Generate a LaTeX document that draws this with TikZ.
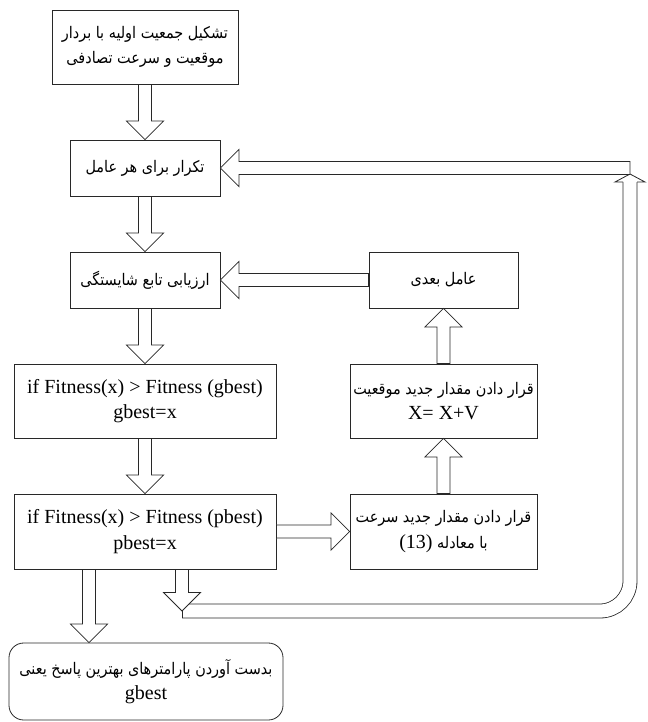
\documentclass[tikz,border=0pt]{standalone}
\usepackage{fontspec}
\setmainfont{Liberation Serif}
\newfontfamily\fa[Script=Arabic]{DejaVu Sans Condensed}
\TeXXeTstate=1
\usetikzlibrary{calc}
\definecolor{linec}{RGB}{40,40,40}
\newcommand\fatext[1]{{\fa\fontsize{12}{19}\selectfont\beginR #1\endR}}
\newcommand\shaftw{4.9pt}
\newcommand\headw{13.9pt}
\newcommand\headlen{13.9pt}
% hollow block arrow from #1 to #2
\newcommand\blkarrow[2]{%
  \coordinate (hb) at ($(#2)!\headlen!(#1)$);
  \draw[blockarrow] ($(#1)!\shaftw!90:(#2)$) -- ($(hb)!\shaftw!90:(#2)$)
     -- ($(hb)!\headw!90:(#2)$) -- (#2) -- ($(hb)!\headw!-90:(#2)$)
     -- ($(hb)!\shaftw!-90:(#2)$) -- ($(#1)!\shaftw!-90:(#2)$) -- cycle;}

\begin{document}
\begin{tikzpicture}[x=0.75pt, y=-0.75pt,
    box/.style={draw=linec, line width=0.6pt, align=center, inner sep=1pt,
                font=\fontsize{15}{19}\selectfont},
    endbox/.style={box, rounded corners=11pt},
    blockarrow/.style={draw=linec, line width=0.6pt, fill=white, line join=miter},
    loopline/.style={draw=linec, line width=0.6pt, double=white, double distance=9.9pt,
                     rounded corners=22.5pt},
]
\useasboundingbox (0,0) rectangle (648,722);

% left column
\node[box, minimum width=139.5pt, minimum height=55.5pt] (init) at (145,47)
  {\fatext{تشکیل جمعیت اولیه با بردار}\\\fatext{موقعیت و سرعت تصادفی}};
\node[box, minimum width=112.5pt, minimum height=42pt] (repeat) at (145,168)
  {\fatext{تکرار برای هر عامل}};
\node[box, minimum width=112.5pt, minimum height=42pt] (evalfit) at (145,280)
  {\fatext{ارزیابی تابع شایستگی}};
\node[box, minimum width=196.5pt, minimum height=55.5pt] (gbestbox) at (145,401)
  {if Fitness(x) > Fitness (gbest)\\gbest=x};
\node[box, minimum width=196.5pt, minimum height=56.25pt] (pbestbox) at (145,531.5)
  {if Fitness(x) > Fitness (pbest)\\pbest=x};
\node[endbox, minimum width=205.5pt, minimum height=57.75pt] (result) at (146,681.5)
  {\fatext{بدست آوردن پارامترهای بهترین پاسخ یعنی}\\gbest};

% right column
\node[box, minimum width=111.75pt, minimum height=42pt] (nextagent) at (443.5,280)
  {\fatext{عامل بعدی}};
\node[box, minimum width=140.25pt, minimum height=55.5pt] (newpos) at (443.5,401)
  {\fatext{قرار دادن مقدار جدید موقعیت}\\X= X+V};
\node[box, minimum width=140.25pt, minimum height=56.25pt] (newvel) at (443.5,531.5)
  {\fatext{قرار دادن مقدار جدید سرعت}\\
   {\fa\fontsize{12}{19}\selectfont\beginR با معادله \beginL{\rmfamily\fontsize{15}{19}\selectfont(13)}\endL\endR}};

\coordinate (loopstart) at (182,611);
\coordinate (loopcorner) at (630,611);
\coordinate (loopend) at (630,182);
\coordinate (looptip) at (630,174);
\coordinate (looptop) at (630,168);
\coordinate (dropleft) at (89,0);

% return loop
\draw[loopline] (loopstart) -- (loopcorner) -- (loopend);
\draw[draw=linec, line width=0.6pt] ($(loopstart)+(0,-7)$) -- ($(loopstart)+(0,7)$);
\draw[blockarrow] ($(loopend)+(-7,0)$) -- ($(loopend)+(-15,0)$) -- (looptip)
   -- ($(loopend)+(15,0)$) -- ($(loopend)+(7,0)$);
\blkarrow{looptop}{repeat.east}

\coordinate (pbout) at (pbestbox.south -| loopstart);
\coordinate (pbleft) at (pbestbox.south -| dropleft);
\coordinate (resin) at (result.north -| dropleft);

\blkarrow{init.south}{repeat.north}
\blkarrow{repeat.south}{evalfit.north}
\blkarrow{evalfit.south}{gbestbox.north}
\blkarrow{gbestbox.south}{pbestbox.north}
\blkarrow{pbleft}{resin}
\blkarrow{pbout}{loopstart}
\blkarrow{pbestbox.east}{newvel.west}
\blkarrow{newvel.north}{newpos.south}
\blkarrow{newpos.north}{nextagent.south}
\blkarrow{nextagent.west}{evalfit.east}

\end{tikzpicture}
\end{document}
